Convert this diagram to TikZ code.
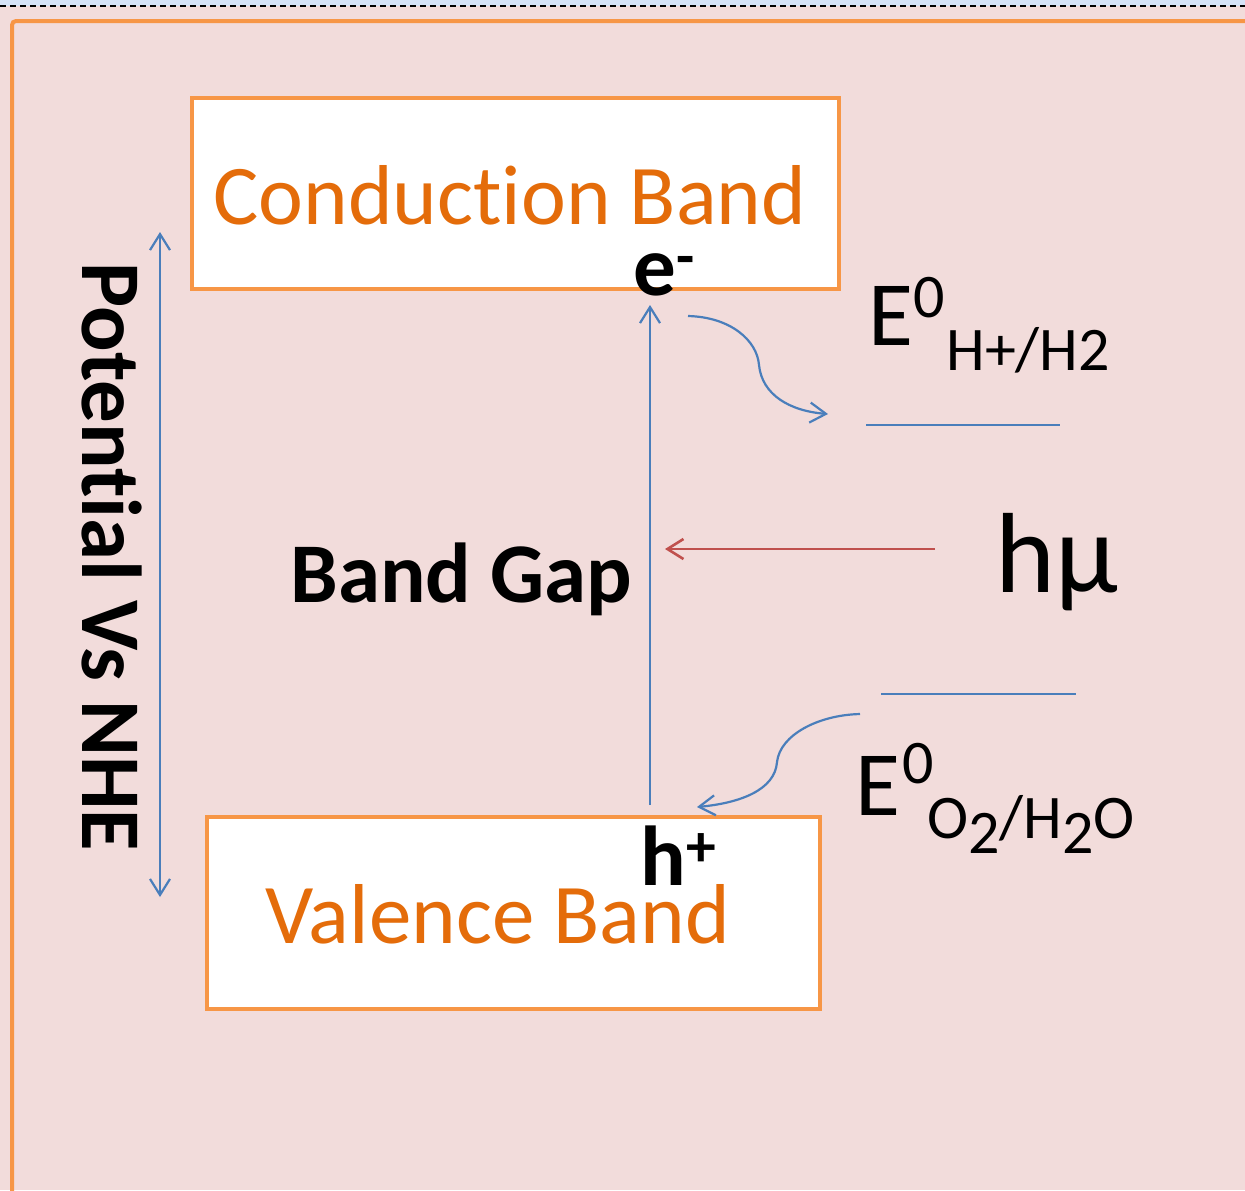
\documentclass[tikz,border=0pt]{standalone}
\usepackage{fontspec}
\setmainfont[Ligatures=NoCommon]{Carlito}
\usetikzlibrary{arrows.meta}
\definecolor{bgpink}{HTML}{F2DCDB}
\definecolor{stripblue}{HTML}{D6E3F7}
\definecolor{frameorange}{HTML}{F79646}
\definecolor{textorange}{HTML}{E46C0A}
\definecolor{lineblue}{HTML}{4A7EBB}
\definecolor{linered}{HTML}{C0504D}
\begin{document}
\begin{tikzpicture}[x=0.5pt,y=-0.5pt,
  bandbox/.style={draw=frameorange, line width=2pt, fill=white, inner sep=0pt},
  bandtxt/.style={text=textorange, font=\fontsize{42.5}{50}\selectfont, anchor=base west, inner sep=0pt},
  boldtxt/.style={text=black, font=\fontsize{42.5}{50}\selectfont\bfseries, anchor=base west, inner sep=0pt},
  etxt/.style={text=black, font=\fontsize{46}{50}\selectfont, anchor=base west, inner sep=0pt},
  subtxt/.style={text=black, font=\fontsize{31}{36}\selectfont, anchor=base west, inner sep=0pt},
  barb/.style={-{Straight Barb[length=8pt,width=10pt]}},
  bluearrow/.style={draw=lineblue, line width=1.1pt, barb},
  levelline/.style={draw=lineblue, line width=0.9pt}]
\useasboundingbox (0,0) rectangle (1245,1190);
\fill[bgpink] (0,0) rectangle (1245,1190);
\fill[stripblue] (0,0) rectangle (1245,6);
\draw[black, line width=0.6pt, dash pattern=on 3pt off 2pt] (0,6) -- (1245,6);
\draw[frameorange, line width=2pt, rounded corners=2pt] (12,1200) -- (12,21) -- (1260,21);

% boxes
\node[bandbox, minimum width=323.5pt, minimum height=95.5pt] (cb) at (515.5,193.5) {};
\node[bandbox, minimum width=306.5pt, minimum height=96pt] (vb) at (513.5,913) {};
\node[bandtxt] (cbt) at (213,224) {Conduction Band};
\node[bandtxt] (vbt) at (265,943) {Valence Band};

% carriers
\node[boldtxt] (el) at (633,295) {e\textsuperscript{-}};
\node[boldtxt] (ho) at (640,885) {h\textsuperscript{+}};
\node[boldtxt] (gap) at (290,602) {Band Gap};
\node[boldtxt, rotate=-90] (pot) at (82,262) {Potential Vs NHE};

% potential axis
\coordinate (axtop) at (160,232);
\coordinate (axbot) at (160,897);
\draw[lineblue, line width=1.1pt, {Straight Barb[length=8pt,width=10pt]}-{Straight Barb[length=8pt,width=10pt]}] (axtop) -- (axbot);

% band gap excitation
\coordinate (gbot) at (650,805);
\coordinate (gtop) at (650,305);
\draw[bluearrow] (gbot) -- (gtop);

% light
\node[text=black, font=\fontsize{57}{64}\selectfont, anchor=base west, inner sep=0pt] (hmu) at (995,592) {hμ};
\coordinate (lstart) at (935,549);
\coordinate (lend) at (665,549);
\draw[linered, line width=1.3pt, barb] (lstart) -- (lend);

% redox levels
\coordinate (h1a) at (866,425);
\coordinate (h1b) at (1060,425);
\draw[levelline] (h1a) -- (h1b);
\coordinate (o1a) at (881,694);
\coordinate (o1b) at (1076,694);
\draw[levelline] (o1a) -- (o1b);

\node[etxt] (E1) at (868,345) {E};
\node[subtxt] (E1s) at (913,317) {0};
\node[subtxt] (E1b) at (946,370) {H+/H2};

\node[etxt] (E2) at (855,815) {E};
\node[subtxt] (E2s) at (902,783) {0};
\node[subtxt] (E2b) at (927,838) {O\raisebox{-7.5pt}{2}/H\raisebox{-7.5pt}{2}O};

% transfer arrows
\coordinate (t1s) at (688,316);
\coordinate (t1e) at (828,414);
\draw[bluearrow] (t1s) .. controls (730,317) and (757,340) .. (759,365) .. controls (762,395) and (790,411) .. (t1e);
\coordinate (t2s) at (860,714);
\coordinate (t2e) at (697,807);
\draw[bluearrow] (t2s) .. controls (818,715) and (780,735) .. (777,762) .. controls (775,790) and (740,803) .. (t2e);
\end{tikzpicture}
\end{document}
